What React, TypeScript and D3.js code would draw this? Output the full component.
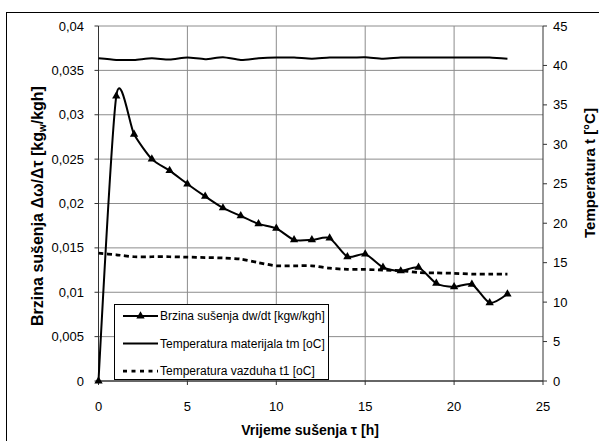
import React from "react";
import * as d3 from "d3";

const hours = [0, 1, 2, 3, 4, 5, 6, 7, 8, 9, 10, 11, 12, 13, 14, 15, 16, 17, 18, 19, 20, 21, 22, 23];
const dryingRate = [0, 0.0321, 0.0278, 0.025, 0.0237, 0.0222, 0.0208, 0.0195, 0.0186, 0.0177, 0.0172, 0.0159, 0.0159, 0.0161, 0.014, 0.0143, 0.0128, 0.0124, 0.0128, 0.011, 0.0106, 0.0109, 0.0088, 0.0098];
const materialTemp = [40.9, 40.7, 40.7, 40.9, 40.75, 41.0, 40.8, 41.05, 40.7, 40.9, 41.0, 41.0, 40.85, 41.0, 41.0, 41.05, 40.85, 41.0, 41.0, 41.0, 41.0, 41.0, 41.0, 40.85];
const airTemp = [16.2, 16.0, 15.75, 15.75, 15.75, 15.7, 15.65, 15.6, 15.45, 15.0, 14.6, 14.6, 14.6, 14.3, 14.15, 14.15, 14.05, 14.0, 13.75, 13.7, 13.65, 13.55, 13.55, 13.55];
const xTicks = [0, 5, 10, 15, 20, 25];
const leftTicks = [0, 0.005, 0.01, 0.015, 0.02, 0.025, 0.03, 0.035, 0.04];
const rightTicks = [0, 5, 10, 15, 20, 25, 30, 35, 40, 45];
const legendLabels = [
  "Brzina sušenja dw/dt [kgw/kgh]",
  "Temperatura materijala tm [oC]",
  "Temperatura vazduha t1 [oC]",
];

const FONT = "Arial, 'Liberation Sans', sans-serif";

export default function App() {
  const x = d3.scaleLinear().domain([0, 25]).range([98.5, 543]);
  const yL = d3.scaleLinear().domain([0, 0.04]).range([381, 26]);
  const yR = d3.scaleLinear().domain([0, 45]).range([381, 26]);
  const curve = d3.curveCardinal.tension(0.3);
  const fmt = (v: number) => d3.format("~g")(v).replace(".", ",");

  const rateLine = d3.line<number>().x((_, i) => x(hours[i])).y((d) => yL(d)).curve(curve);
  const tempLine = d3.line<number>().x((_, i) => x(hours[i])).y((d) => yR(d)).curve(curve);
  const tri = d3.symbol().type(d3.symbolTriangle).size(30)();

  const [x0, x1] = x.range();
  const [yb, yt] = yL.range();

  return (
    <svg width={599} height={441} style={{ position: "absolute", left: 0, top: 0, background: "#fff" }} fontFamily={FONT}>
      <rect x={0} y={0} width={599} height={441} fill="#fff" />
      <rect x={6.5} y={12.5} width={620} height={460} fill="none" stroke="#000" strokeWidth={1} />
      {/* gridlines */}
      {leftTicks.filter((t) => t > 0).map((t) => (
        <line key={"h" + t} x1={x0} x2={x1} y1={yL(t)} y2={yL(t)} stroke="#8c8c8c" strokeWidth={1} />
      ))}
      {xTicks.filter((t) => t > 0 && t < 25).map((t) => (
        <line key={"v" + t} x1={x(t)} x2={x(t)} y1={yt} y2={yb} stroke="#8c8c8c" strokeWidth={1} />
      ))}
      {/* axes */}
      <line x1={x0} x2={x0} y1={yt} y2={yb} stroke="#333" strokeWidth={1} />
      <line x1={x1} x2={x1} y1={yt} y2={yb} stroke="#333" strokeWidth={1} />
      <line x1={x0} x2={x1} y1={yb} y2={yb} stroke="#333" strokeWidth={1.5} />
      {leftTicks.map((t) => (
        <g key={"lt" + t}>
          <line x1={x0 - 4} x2={x0} y1={yL(t)} y2={yL(t)} stroke="#333" />
          <text x={84} y={yL(t)} textAnchor="end" dominantBaseline="central" fontSize={13} fill="#000">{fmt(t)}</text>
        </g>
      ))}
      {rightTicks.map((t) => (
        <g key={"rt" + t}>
          <line x1={x1} x2={x1 + 4} y1={yR(t)} y2={yR(t)} stroke="#333" />
          <text x={553} y={yR(t)} textAnchor="start" dominantBaseline="central" fontSize={13} fill="#000">{t}</text>
        </g>
      ))}
      {xTicks.map((t) => (
        <g key={"xt" + t}>
          <line x1={x(t)} x2={x(t)} y1={yb} y2={yb + 4} stroke="#333" />
          <text x={x(t)} y={410.5} textAnchor="middle" fontSize={13} fill="#000">{t}</text>
        </g>
      ))}
      {/* titles */}
      <text x={310} y={435} textAnchor="middle" fontSize={14} fontWeight="bold">Vrijeme sušenja τ [h]</text>
      <text transform="translate(43,206) rotate(-90)" textAnchor="middle" fontSize={16} fontWeight="bold">
        Brzina sušenja  Δω/Δτ [kg<tspan fontSize={10} dy={3}>w</tspan><tspan dy={-3}>/kgh]</tspan>
      </text>
      <text transform="translate(595,173) rotate(-90)" textAnchor="middle" fontSize={15} fontWeight="bold">
        Temperatura t  [°C]
      </text>
      {/* series */}
      <path d={tempLine(materialTemp) || ""} fill="none" stroke="#000" strokeWidth={2} />
      <path d={tempLine(airTemp) || ""} fill="none" stroke="#000" strokeWidth={2.75} strokeDasharray="5,3.5" />
      <path d={rateLine(dryingRate) || ""} fill="none" stroke="#000" strokeWidth={2} />
      {dryingRate.map((d, i) => (
        <path key={"m" + i} d={tri || ""} transform={`translate(${x(hours[i])},${yL(d)})`} fill="#000" />
      ))}
      {/* legend */}
      <rect x={114.5} y={304.5} width={214} height={75} fill="#fff" stroke="#000" strokeWidth={1} />
      {legendLabels.map((lbl, i) => {
        const ly = 316 + i * 27.5;
        return (
          <g key={"lg" + i}>
            <line x1={123} x2={158} y1={ly} y2={ly} stroke="#000"
              strokeWidth={i === 2 ? 2.75 : 2} strokeDasharray={i === 2 ? "4,4.5" : undefined} />
            {i === 0 && <path d={tri || ""} transform={`translate(140.5,${ly})`} fill="#000" />}
            <text x={160} y={ly} dominantBaseline="central" fontSize={12} fill="#000">{lbl}</text>
          </g>
        );
      })}
    </svg>
  );
}
